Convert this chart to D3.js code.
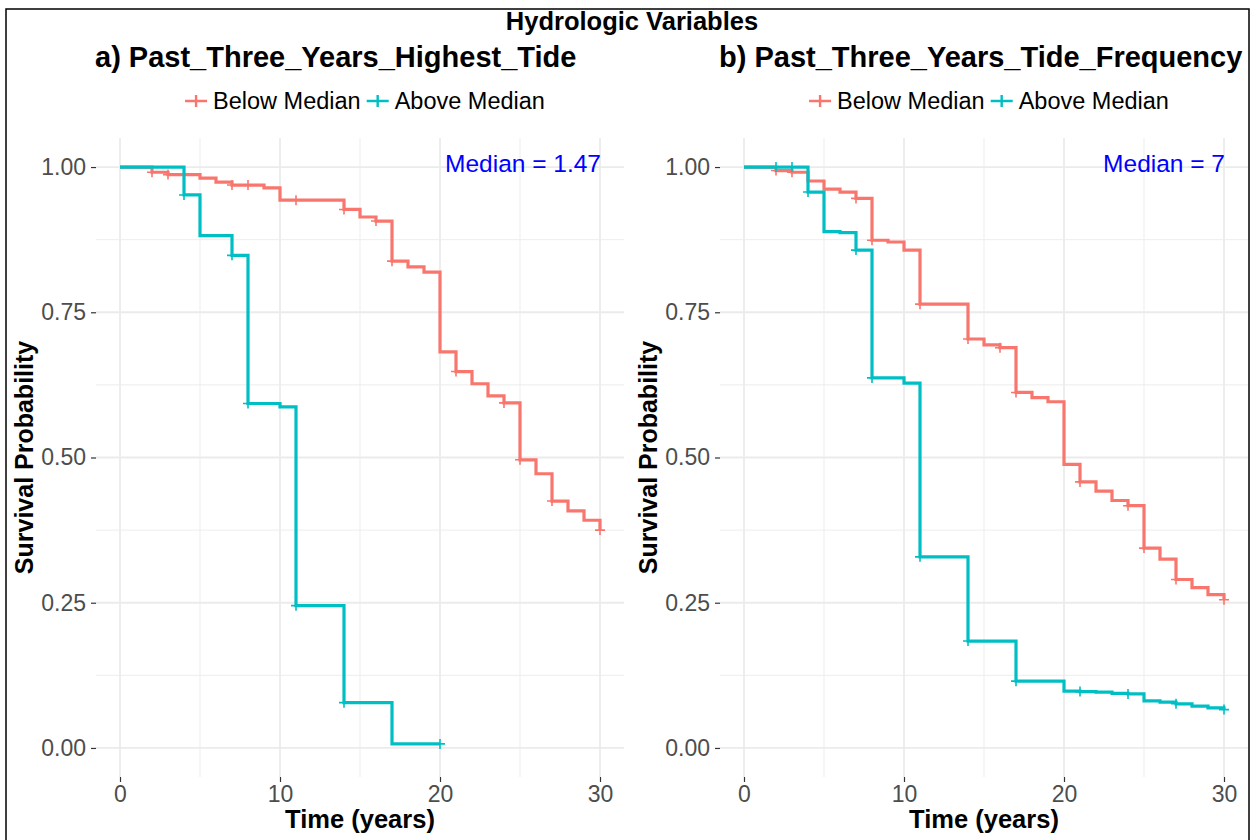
<!DOCTYPE html>
<html>
<head>
<meta charset="utf-8">
<script src="https://cdn.jsdelivr.net/npm/d3@7"></script>
<style>
  body { margin: 0; background: #fff; }
  svg { font-family: "Liberation Sans", Arial, sans-serif; }
</style>
</head>
<body>
<div id="chart"></div>
<script>
// ---- data ----
const groups = ['Below Median', 'Above Median'];
const xTicks = [0, 10, 20, 30];
const yTicks = [0, 0.25, 0.5, 0.75, 1];

// panel a) Past_Three_Years_Highest_Tide
const aBelowTime = [0, 2, 3, 5, 6, 7, 9, 10, 14, 15, 16, 17, 18, 19, 20, 21, 22, 23, 24, 25, 26, 27, 28, 29, 30];
const aBelowSurv = [1, 0.991, 0.987, 0.981, 0.974, 0.969, 0.964, 0.943, 0.927, 0.914, 0.907, 0.838, 0.828, 0.819, 0.682, 0.648, 0.627, 0.606, 0.594, 0.496, 0.472, 0.425, 0.408, 0.392, 0.375];
const aBelowCens = [2, 3, 7, 8, 11, 14, 16, 17, 21, 24, 25, 27, 30];
const aAboveTime = [0, 4, 5, 7, 8, 10, 11, 14, 17, 20];
const aAboveSurv = [1, 0.952, 0.882, 0.848, 0.593, 0.587, 0.245, 0.078, 0.007, 0.007];
const aAboveCens = [4, 7, 8, 11, 14, 20];

// panel b) Past_Three_Years_Tide_Frequency
const bBelowTime = [0, 2, 3, 4, 5, 6, 7, 8, 9, 10, 11, 14, 15, 16, 17, 18, 19, 20, 21, 22, 23, 24, 25, 26, 27, 28, 29, 30];
const bBelowSurv = [1, 0.994, 0.991, 0.976, 0.962, 0.957, 0.946, 0.874, 0.871, 0.857, 0.764, 0.704, 0.694, 0.689, 0.612, 0.603, 0.596, 0.488, 0.458, 0.442, 0.426, 0.417, 0.344, 0.325, 0.290, 0.276, 0.264, 0.255];
const bBelowCens = [2, 3, 7, 8, 11, 14, 16, 17, 21, 24, 25, 27, 30];
const bAboveTime = [0, 4, 5, 6, 7, 8, 10, 11, 14, 17, 20, 21, 22, 23, 24, 25, 26, 27, 28, 29, 30];
const bAboveSurv = [1, 0.957, 0.889, 0.887, 0.857, 0.637, 0.628, 0.329, 0.184, 0.115, 0.098, 0.097, 0.096, 0.094, 0.093, 0.081, 0.079, 0.076, 0.072, 0.069, 0.066];
const bAboveCens = [2, 3, 4, 7, 8, 11, 14, 17, 21, 24, 27, 30];

const colors = ['#F8766D', '#00BFC4'];
const gridColor = '#EBEBEB';

const svg = d3.select('#chart')
  .append('svg')
  .attr('width', 1256)
  .attr('height', 840);

svg.append('rect')
  .attr('x', 0).attr('y', 0).attr('width', 1256).attr('height', 840)
  .attr('fill', '#fff');
svg.append('rect')
  .attr('x', 6).attr('y', 9).attr('width', 1243).attr('height', 840)
  .attr('fill', 'none')
  .attr('stroke', '#000')
  .attr('stroke-width', 1.5);

svg.append('text')
  .attr('x', 632)
  .attr('y', 30)
  .attr('text-anchor', 'middle')
  .style('font-size', '25.5px')
  .style('font-weight', 'bold')
  .text('Hydrologic Variables');

function zip(t, s) {
  return t.map((d, i) => ({ t: d, s: s[i] }));
}

function drawPanel(opt) {
  const left = opt.left, right = opt.left + 528, top = 138, bottom = 777;
  const x = d3.scaleLinear().domain([-1.5, 31.5]).range([left, right]);
  const y = d3.scaleLinear().domain([-0.05, 1.05]).range([bottom, top]);
  const g = svg.append('g');

  // grid, minor first
  g.selectAll('.vminor')
    .data([5, 15, 25])
    .enter().append('line')
    .attr('x1', d => x(d)).attr('x2', d => x(d))
    .attr('y1', top).attr('y2', bottom)
    .attr('stroke', gridColor).attr('stroke-width', 0.9);
  g.selectAll('.hminor')
    .data([0.125, 0.375, 0.625, 0.875])
    .enter().append('line')
    .attr('x1', left).attr('x2', right)
    .attr('y1', d => y(d)).attr('y2', d => y(d))
    .attr('stroke', gridColor).attr('stroke-width', 0.9);
  g.selectAll('.vmajor')
    .data(xTicks)
    .enter().append('line')
    .attr('x1', d => x(d)).attr('x2', d => x(d))
    .attr('y1', top).attr('y2', bottom)
    .attr('stroke', gridColor).attr('stroke-width', 1.8);
  g.selectAll('.hmajor')
    .data(yTicks)
    .enter().append('line')
    .attr('x1', left).attr('x2', right)
    .attr('y1', d => y(d)).attr('y2', d => y(d))
    .attr('stroke', gridColor).attr('stroke-width', 1.8);

  // axes
  const xAxis = g.append('g')
    .attr('transform', `translate(0,${bottom})`)
    .call(d3.axisBottom(x).tickValues(xTicks).tickSize(5).tickPadding(4).tickFormat(d3.format('d')));
  const yAxis = g.append('g')
    .attr('transform', `translate(${left},0)`)
    .call(d3.axisLeft(y).tickValues(yTicks).tickSize(5).tickPadding(5).tickFormat(d3.format('.2f')));
  [xAxis, yAxis].forEach(a => {
    a.select('.domain').remove();
    a.selectAll('.tick line').attr('stroke', '#333').attr('stroke-width', 1.2);
    a.selectAll('.tick text')
      .attr('fill', '#4D4D4D')
      .style('font-size', '23px')
      .style('font-family', '"Liberation Sans", Arial, sans-serif');
  });

  // curves
  const line = d3.line()
    .x(d => x(d.t))
    .y(d => y(d.s))
    .curve(d3.curveStepAfter);
  opt.series.forEach((sr, i) => {
    const pts = zip(sr.time, sr.surv);
    g.append('path')
      .datum(pts)
      .attr('fill', 'none')
      .attr('stroke', colors[i])
      .attr('stroke-width', 3.2)
      .attr('d', line);
    const survAt = t => {
      let v = 1;
      pts.forEach(p => { if (p.t <= t) v = p.s; });
      return v;
    };
    const cg = g.append('g');
    sr.cens.forEach(t => {
      const cx = x(t), cy = y(survAt(t));
      cg.append('path')
        .attr('d', `M${cx - 5},${cy}H${cx + 5}M${cx},${cy - 5}V${cy + 5}`)
        .attr('stroke', colors[i])
        .attr('stroke-width', 1.6);
    });
  });

  // titles
  g.append('text')
    .attr('x', left - 1)
    .attr('y', 67)
    .style('font-size', '29px')
    .style('font-weight', 'bold')
    .text(opt.title);

  g.append('text')
    .attr('x', x(30) + 1)
    .attr('y', 172)
    .attr('text-anchor', 'end')
    .attr('fill', '#0000FF')
    .style('font-size', '24.5px')
    .text(opt.median);

  g.append('text')
    .attr('x', (left + right) / 2)
    .attr('y', 828)
    .attr('text-anchor', 'middle')
    .style('font-size', '25.5px')
    .style('font-weight', 'bold')
    .text('Time (years)');

  g.append('text')
    .attr('transform', `translate(${left - 63},${(top + bottom) / 2}) rotate(-90)`)
    .attr('text-anchor', 'middle')
    .style('font-size', '25px')
    .style('font-weight', 'bold')
    .text('Survival Probability');

  // legend
  const leg = g.append('g');
  let cur = 0;
  groups.forEach((name, i) => {
    const k = leg.append('g').attr('transform', `translate(${cur},0)`);
    k.append('path')
      .attr('d', 'M0,0H22M11,-6V6')
      .attr('stroke', colors[i])
      .attr('stroke-width', 2.4);
    const t = k.append('text')
      .attr('x', 28)
      .attr('y', 8)
      .style('font-size', '23.5px')
      .text(name);
    cur += 28 + t.node().getComputedTextLength() + 6;
  });
  const legW = cur - 6;
  leg.attr('transform', `translate(${(left + right) / 2 + 5 - legW / 2},101)`);
}

drawPanel({
  left: 96,
  title: 'a) Past_Three_Years_Highest_Tide',
  median: 'Median = 1.47',
  series: [
    { time: aBelowTime, surv: aBelowSurv, cens: aBelowCens },
    { time: aAboveTime, surv: aAboveSurv, cens: aAboveCens }
  ]
});
drawPanel({
  left: 720,
  title: 'b) Past_Three_Years_Tide_Frequency',
  median: 'Median = 7',
  series: [
    { time: bBelowTime, surv: bBelowSurv, cens: bBelowCens },
    { time: bAboveTime, surv: bAboveSurv, cens: bAboveCens }
  ]
});
</script>
</body>
</html>
